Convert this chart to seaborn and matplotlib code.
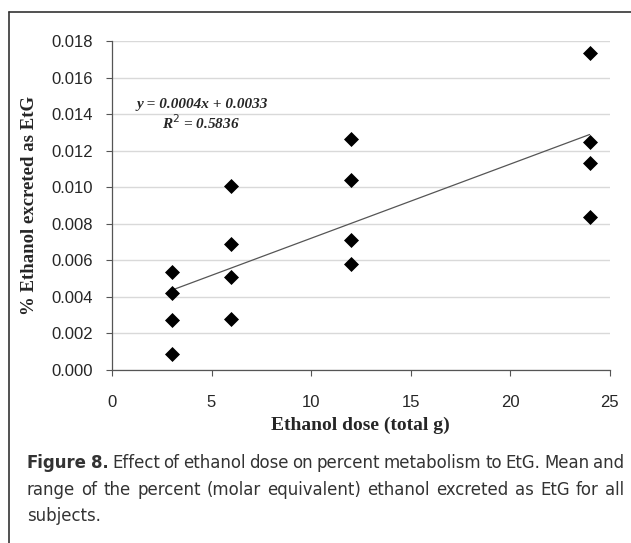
import numpy as np
import pandas as pd
import matplotlib
matplotlib.use('Agg')
import matplotlib.pyplot as plt
from matplotlib.lines import Line2D
from matplotlib import font_manager
import seaborn as sns

# ── Data ──────────────────────────────────────────────────────────────────────
dose_g = [3, 3, 3, 3, 6, 6, 6, 6, 12, 12, 12, 12, 24, 24, 24, 24]
pct_etg = [0.00536, 0.00420, 0.00272, 0.00088,
           0.01007, 0.00690, 0.00507, 0.00277,
           0.01262, 0.01038, 0.00711, 0.00578,
           0.01733, 0.01249, 0.01133, 0.00839]
y_ticks = [0.000, 0.002, 0.004, 0.006, 0.008, 0.010, 0.012, 0.014, 0.016, 0.018]
x_ticks = [0, 5, 10, 15, 20, 25]
fit_text = ["y = 0.0004x + 0.0033", "R$^2$ = 0.5836"]
caption_bold = "Figure 8."
caption_lines = [
    "Effect of ethanol dose on percent metabolism to EtG. Mean and",
    "range of the percent (molar equivalent) ethanol excreted as EtG for all",
    "subjects.",
]

df = pd.DataFrame({'dose': dose_g, 'pct': pct_etg})

sns.set_style('white')
plt.rcParams['font.family'] = ['Liberation Sans', 'DejaVu Sans']

W, H = 631, 543
fig = plt.figure(figsize=(W / 100, H / 100), dpi=100)
ax = fig.add_axes([112 / W, 1 - 370 / H, (609.5 - 112) / W, (370 - 41) / H])

# horizontal grid
for yt in y_ticks:
    ax.axhline(yt, color='#d9d9d9', lw=1.0, zorder=0)

sns.regplot(data=df, x='dose', y='pct', ax=ax, ci=None, scatter=False,
            line_kws={'color': '#555555', 'lw': 0.9}, truncate=True)
sns.scatterplot(data=df, x='dose', y='pct', ax=ax, marker='D', s=50,
                color='black', edgecolor='black', zorder=5)

ax.set_xlim(0, 25)
ax.set_ylim(0, 0.018)
ax.set_xticks(x_ticks)
ax.set_yticks(y_ticks)
ax.set_yticklabels([f"{v:.3f}" for v in y_ticks])
ax.tick_params(axis='both', labelsize=12, direction='out', length=4,
               color='#555555', width=0.8, left=True, bottom=True)
ax.tick_params(axis='y', pad=10)
ax.tick_params(axis='x', pad=14)
for side in ['top', 'right']:
    ax.spines[side].set_visible(False)
for side in ['left', 'bottom']:
    ax.spines[side].set_color('#555555')
    ax.spines[side].set_linewidth(0.9)

ax.set_xlabel("Ethanol dose (total g)", family='Liberation Serif',
              fontweight='bold', fontsize=14, labelpad=5)
ax.set_ylabel("% Ethanol excreted as EtG", family='Liberation Serif',
              fontweight='bold', fontsize=13.5, labelpad=9)

# regression equation
ax.text(4.54, 0.0145, fit_text[0], ha='center', va='center',
        family='Liberation Serif', fontweight='bold', style='italic', fontsize=11)
ax.text(4.47, 0.01351, fit_text[1], ha='center', va='center',
        family='Liberation Serif', fontweight='bold', style='italic', fontsize=11)

# caption font: a condensed sans if one is installed
condensed = [f for f in font_manager.fontManager.ttflist
             if f.stretch == 'condensed' or 'Condensed' in f.fname or 'Narrow' in f.name]
if condensed:
    cap_font = [condensed[0].name]
    cap_kw = {'fontstretch': 'condensed'}
else:
    cap_font = ['Liberation Sans', 'DejaVu Sans']
    cap_kw = {}
renderer = fig.canvas.get_renderer()

# largest size at which the longest line fits the 597 px column
cap_size = 16.0
while cap_size > 9:
    probe = fig.text(0, 0, caption_lines[1], family=cap_font, fontsize=cap_size, **cap_kw)
    wid = probe.get_window_extent(renderer).width
    probe.remove()
    if wid <= 592:
        break
    cap_size -= 0.2


def place_line(words, y_px, justify):
    texts, widths = [], []
    for word, bold in words:
        t = fig.text(0, 1 - y_px / H, word, family=cap_font, fontsize=cap_size,
                     fontweight='bold' if bold else 'normal', color='#333333',
                     va='baseline', ha='left', **cap_kw)
        texts.append(t)
        widths.append(t.get_window_extent(renderer).width)
    gap = (597 - sum(widths)) / (len(words) - 1) if justify else cap_size * 0.35
    x = 27
    for t, w in zip(texts, widths):
        t.set_x(x / W)
        x += w + gap


line1 = [(w, True) for w in caption_bold.split()] + [(w, False) for w in caption_lines[0].split()]
place_line(line1, 468, True)
place_line([(w, False) for w in caption_lines[1].split()], 495, True)
place_line([(w, False) for w in caption_lines[2].split()], 521, False)

# figure frame (top and left)
fig.add_artist(Line2D([9 / W, 9 / W], [0, 1 - 12 / H],
                      transform=fig.transFigure, color='#333333', lw=1.2))
fig.add_artist(Line2D([9 / W, 1], [1 - 12 / H, 1 - 12 / H],
                      transform=fig.transFigure, color='#333333', lw=1.2))

fig.savefig('out.png', dpi=100)
